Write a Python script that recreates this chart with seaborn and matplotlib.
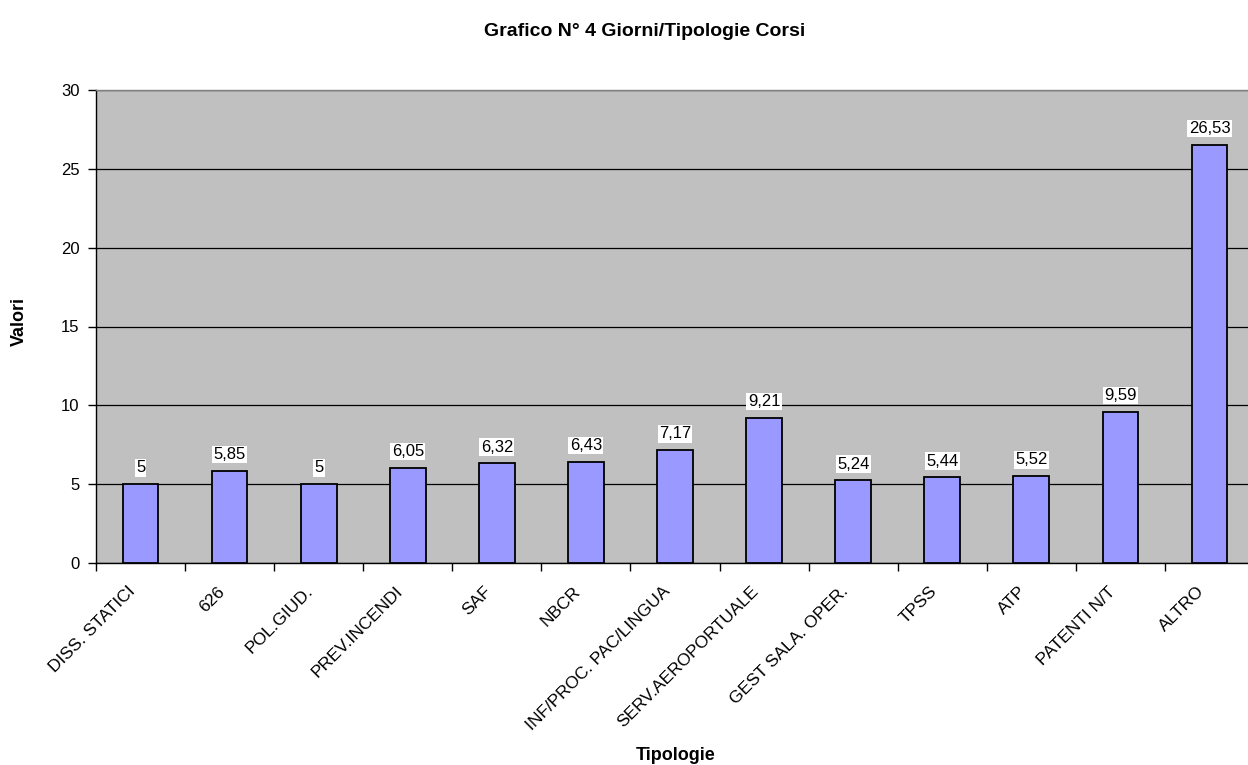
import matplotlib
matplotlib.use("Agg")
import matplotlib.pyplot as plt
import matplotlib.transforms as mtransforms
import seaborn as sns
import pandas as pd
import numpy as np
from matplotlib.ticker import FixedLocator

categories = ["DISS. STATICI", "626", "POL.GIUD.", "PREV.INCENDI", "SAF", "NBCR",
              "INF/PROC. PAC/LINGUA", "SERV.AEROPORTUALE", "GEST SALA. OPER.",
              "TPSS", "ATP", "PATENTI N/T", "ALTRO"]
values = [5, 5.85, 5, 6.05, 6.32, 6.43, 7.17, 9.21, 5.24, 5.44, 5.52, 9.59, 26.53]
value_labels = ["5", "5,85", "5", "6,05", "6,32", "6,43", "7,17", "9,21", "5,24",
                "5,44", "5,52", "9,59", "26,53"]
yticks = [0, 5, 10, 15, 20, 25, 30]

sns.set_theme(style="white")
plt.rcParams['font.family'] = ['Liberation Sans', 'DejaVu Sans']
plt.rcParams.update({"text.color": "black", "axes.labelcolor": "black",
                     "xtick.color": "black", "ytick.color": "black"})

df = pd.DataFrame({"Tipologie": categories, "Valori": values})

L, R, T, B = 96, 1254, 90, 563
fig = plt.figure(figsize=(12.48, 7.65), dpi=100)
ax = fig.add_axes([L/1248, 1-B/765, (R-L)/1248, (B-T)/765])
ax.set_facecolor("#C0C0C0")

sns.barplot(data=df, x="Tipologie", y="Valori", ax=ax, color="#9999FF",
            saturation=1, width=0.40, edgecolor="black", linewidth=1.3, zorder=3)

ax.set_ylim(0, 30)
ax.set_xlim(-0.5, len(categories) - 0.5)
ax.set_yticks(yticks)
ax.set_yticklabels([str(t) for t in yticks], fontsize=12)
ax.yaxis.grid(True, color="black", linewidth=0.9, zorder=1)
ax.set_axisbelow(True)

# x ticks at category boundaries, labels at centers
ax.set_xticks(np.arange(len(categories)))
ax.set_xticklabels(categories, rotation=45, ha="right", va="top",
                   rotation_mode="anchor", fontsize=12.5)
ax.tick_params(axis="x", which="major", length=0, pad=15)
offset = mtransforms.ScaledTranslation(-13/100, 0, fig.dpi_scale_trans)
for lbl in ax.get_xticklabels():
    lbl.set_transform(lbl.get_transform() + offset)
ax.xaxis.set_minor_locator(FixedLocator(np.arange(-0.5, len(categories), 1.0)))
ax.tick_params(axis="x", which="minor", length=6, width=1, color="black", direction="out", bottom=True)
ax.tick_params(axis="y", length=6, width=1, color="black", direction="out", left=True, pad=6)

ax.spines["right"].set_visible(False)
ax.spines["top"].set_color("#808080")
ax.spines["top"].set_linewidth(1)
ax.spines["left"].set_color("black")
ax.spines["bottom"].set_color("black")
ax.spines["left"].set_linewidth(1)
ax.spines["bottom"].set_linewidth(1)

for i, (v, lab) in enumerate(zip(values, value_labels)):
    ax.text(i, v + 0.55, lab, ha="center", va="bottom", fontsize=12, color="black",
            bbox=dict(facecolor="white", edgecolor="none", pad=1.0), zorder=5)

ax.set_xlabel("Tipologie", fontsize=13, fontweight="bold")
ax.xaxis.set_label_coords((676-L)/(R-L), -(755-B)/(B-T))
ax.xaxis.label.set_va("center")
ax.set_ylabel("Valori", fontsize=13, fontweight="bold")
ax.yaxis.set_label_coords(-(L-19)/(R-L), (B-321)/(B-T))
ax.yaxis.label.set_va("center")
fig.text(645/1248, 1-32/765, "Grafico N° 4 Giorni/Tipologie Corsi", ha="center", va="center",
         fontsize=14, fontweight="bold")

fig.savefig("out.png", dpi=100, facecolor="white")
